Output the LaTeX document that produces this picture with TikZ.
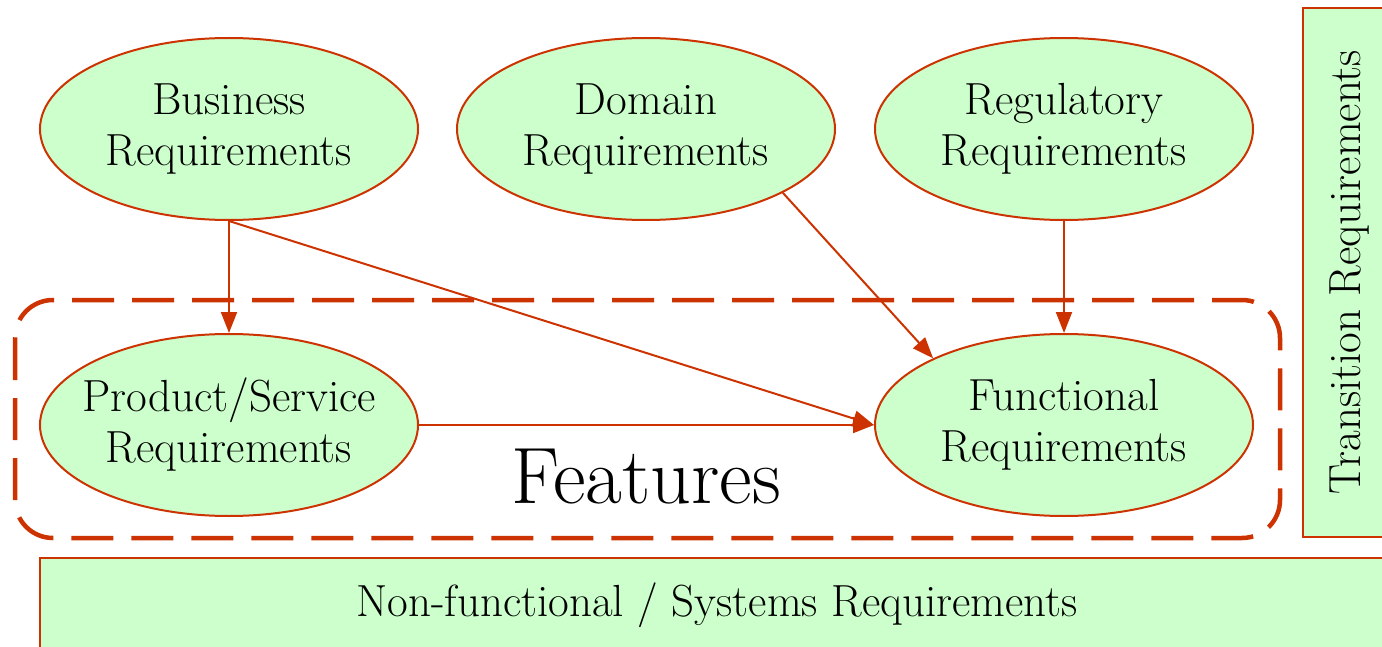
\documentclass[tikz,border=0pt]{standalone}
\usepackage{fontspec}
\usetikzlibrary{shapes.geometric,arrows.meta}
\definecolor{reqfill}{HTML}{CCFFCC}
\definecolor{reqline}{HTML}{CC3300}
\tikzset{
  x=1pt, y=-1pt,
  req/.style={ellipse, draw=reqline, fill=reqfill, line width=2pt,
    minimum width=378pt, minimum height=182pt,
    inner xsep=-20pt, inner ysep=0pt,
    align=center, font=\fontsize{45}{51}\selectfont},
  flow/.style={draw=reqline, line width=2pt,
    -{Triangle[length=21pt,width=16pt]}},
  band/.style={draw=reqline, fill=reqfill, line width=2.5pt},
  bandtext/.style={font=\fontsize{45}{51}\selectfont},
}
\begin{document}
\begin{tikzpicture}
\useasboundingbox (0,0) rectangle (1382,647);
\clip (0,0) rectangle (1382,647);

% grouping frame for the feature-level requirements
\draw[reqline, line width=4.5pt, dash pattern=on 42pt off 18pt,
      rounded corners=38pt] (15,300) rectangle (1280,538);
\node[font=\fontsize{80}{86}\selectfont] (feat) at (646,477) {Features};

% requirement ellipses
\node[req] (bus) at (229,129) {Business\\Requirements};
\node[req] (dom) at (646,129) {Domain\\Requirements};
\node[req] (reg) at (1064,129) {Regulatory\\Requirements};
\node[req] (prod) at (229,425) {Product/Service\\Requirements};
\node[req] (func) at (1064,425) {Functional\\Requirements};

% side and bottom bands
\draw[band] (1303,8) rectangle (1395,537);
\node[bandtext, rotate=90] (trans) at (1350,272) {Transition Requirements};
\draw[band] (40,558) rectangle (1395,660);
\node[bandtext] (nonf) at (717,605) {Non-functional / Systems Requirements};

% derivation arrows
\draw[flow] (bus.south) -- (prod.north);
\draw[flow] (bus.south) -- (func.west);
\draw[flow] (prod.east) -- (func.west);
\draw[flow] (dom.-25.5) -- (func.153);
\draw[flow] (reg.south) -- (func.north);
\end{tikzpicture}
\end{document}
